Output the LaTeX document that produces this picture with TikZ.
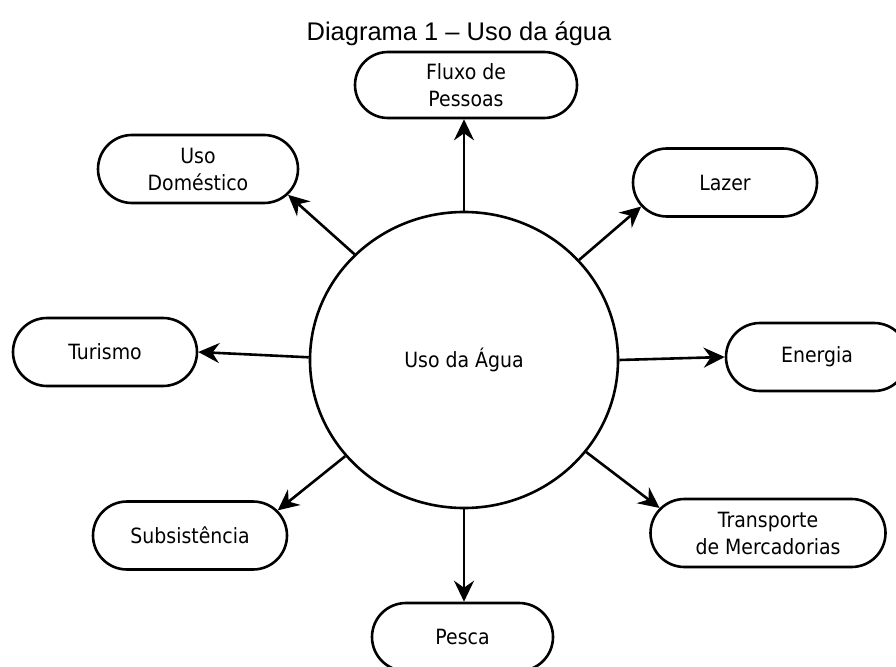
\documentclass[tikz,border=0pt]{standalone}
\usepackage{fontspec}
\setmainfont{DejaVu Sans}[FakeStretch=0.9]
\newfontfamily\titlefont{Liberation Sans}
\usetikzlibrary{arrows.meta,shapes.misc,shapes.geometric}
\begin{document}
\begin{tikzpicture}[x=1pt,y=-1pt,
  box/.style={rounded rectangle, draw, line width=2.6pt, minimum height=68pt,
    inner xsep=0pt, inner ysep=0pt, align=center,
    font=\fontsize{21}{27}\selectfont},
  arr/.style={line width=2.6pt, -{Stealth[length=21pt,width=20pt,inset=7pt]}}]
\clip (0,0) rectangle (896,666);
\node[font=\titlefont\fontsize{25.5}{30}\selectfont, anchor=base] (title) at (459,41) {Diagrama 1 – Uso da água};
\node[ellipse, draw, line width=2.6pt, minimum width=308pt, minimum height=296pt,
  font=\fontsize{21}{27}\selectfont] (c) at (464,360) {Uso da Água};
\node[box, minimum width=222pt, minimum height=66pt] (flu) at (466,85) {Fluxo de\\Pessoas};
\node[box, minimum width=200pt] (dom) at (198,169) {Uso\\Doméstico};
\node[box, minimum width=184pt] (laz) at (725,182.5) {Lazer};
\node[box, minimum width=184pt] (tur) at (105,352) {Turismo};
\node[box, minimum width=182pt] (ene) at (817,357) {Energia};
\node[box, minimum width=194pt] (sub) at (190,535.5) {Subsistência};
\node[box, minimum width=235pt] (tra) at (768,533) {Transporte\\de Mercadorias};
\node[box, minimum width=181pt] (pes) at (462.5,637) {Pesca};
\draw[arr] (c.north) -- (c.north |- flu.south);
\draw[arr] (c.136.5) -- (dom.-16);
\draw[arr] (c.41) -- (laz.196);
\draw[arr] (c.179) -- (tur.east);
\draw[arr] (c.0) -- (ene.west);
\draw[arr] (c.219) -- (sub.16);
\draw[arr] (c.323) -- (tra.167);
\draw[arr] (c.south) -- (c.south |- pes.north);
\end{tikzpicture}
\end{document}
